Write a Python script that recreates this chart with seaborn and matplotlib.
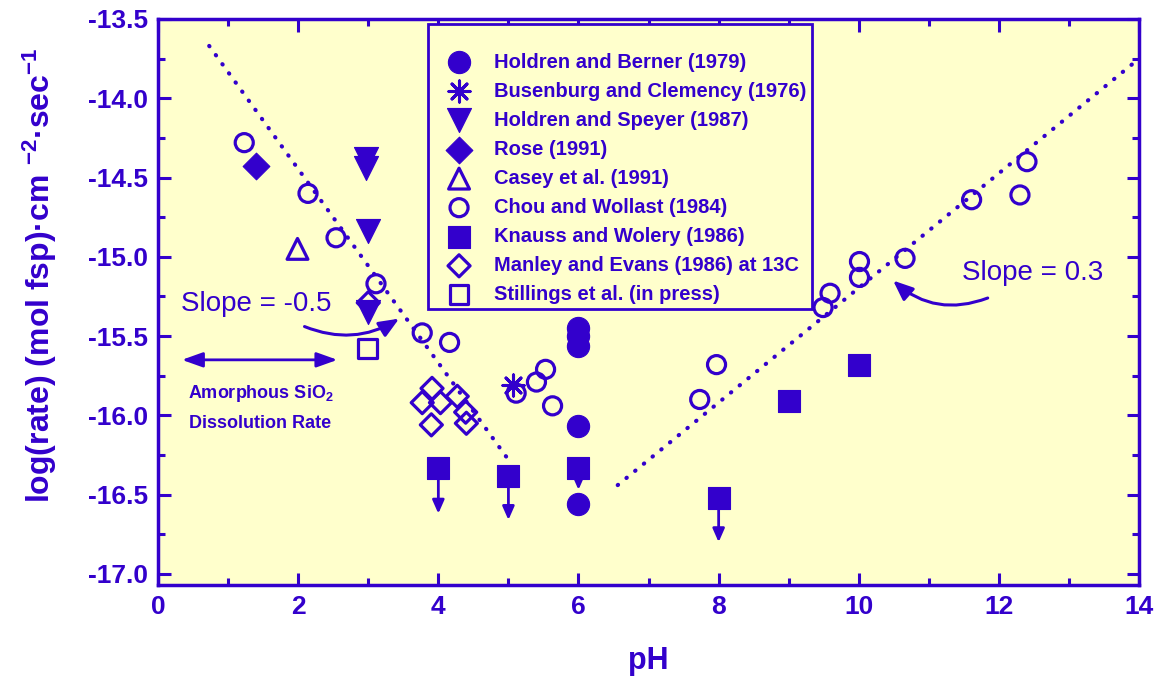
import numpy as np
import pandas as pd
import seaborn as sns
import matplotlib.pyplot as plt
from matplotlib.ticker import MultipleLocator, FormatStrFormatter

BLUE = "#3300cc"
PAPER = "#ffffcc"

# Holdren and Berner (1979)
hb_ph = [6.0, 6.0, 6.0, 6.0, 6.0]
hb_rate = [-15.45, -15.50, -15.56, -16.07, -16.56]
# Busenburg and Clemency (1976)
bc_ph = [5.06]
bc_rate = [-15.81]
# Holdren and Speyer (1987)
hs_ph = [2.97, 2.97, 2.99, 3.0]
hs_rate = [-14.38, -14.44, -14.84, -15.35]
# Rose (1991)
rose_ph = [1.40]
rose_rate = [-14.43]
# Casey et al. (1991)
casey_ph = [1.99]
casey_rate = [-14.95]
# Chou and Wollast (1984)
cw_ph = [1.23, 2.14, 2.54, 3.11, 3.77, 4.16, 5.11, 5.40, 5.53, 5.63,
         7.73, 7.97, 9.49, 9.59, 10.01, 10.01, 10.66, 11.61, 12.30, 12.40]
cw_rate = [-14.28, -14.60, -14.88, -15.17, -15.48, -15.54, -15.86, -15.79, -15.71, -15.94,
           -15.90, -15.68, -15.32, -15.23, -15.13, -15.03, -15.01, -14.64, -14.61, -14.40]
# Knauss and Wolery (1986)
kw_ph = [4.0, 5.0, 6.0, 8.0, 9.0, 10.0]
kw_rate = [-16.33, -16.38, -16.33, -16.52, -15.91, -15.68]
# Knauss and Wolery upper limits (arrow tips)
kw_limit_ph = [4.0, 5.0, 6.0, 8.0]
kw_limit_from = [-16.33, -16.38, -16.33, -16.52]
kw_limit_to = [-16.62, -16.66, -16.47, -16.80]
# Manley and Evans (1986) at 13C
me_ph = [3.0, 3.77, 3.90, 3.91, 4.03, 4.27, 4.39, 4.40]
me_rate = [-15.29, -15.92, -16.06, -15.83, -15.92, -15.88, -15.98, -16.05]
# Stillings et al. (in press)
st_ph = [2.99]
st_rate = [-15.58]

# dotted trend lines
acid_ph = [0.73, 5.0]
acid_rate = [-13.67, -16.28]
base_ph = [6.56, 14.0]
base_rate = [-16.44, -13.75]

sns.set_style("ticks")
plt.rcParams["font.family"] = ["Liberation Sans", "DejaVu Sans"]
plt.rcParams["mathtext.fontset"] = "custom"
plt.rcParams["mathtext.rm"] = "Liberation Sans:bold"
plt.rcParams["mathtext.it"] = "Liberation Sans:bold"
plt.rcParams["mathtext.bf"] = "Liberation Sans:bold"
plt.rcParams["mathtext.default"] = "rm"
plt.rcParams["axes.unicode_minus"] = False

fig = plt.figure(figsize=(11.76, 6.78), dpi=100)
fig.patch.set_facecolor("white")
ax = fig.add_axes([0.1344, 0.1372, 0.8342, 0.8348])
ax.set_facecolor(PAPER)

dots = (0, (0.1, 2.6))
sns.lineplot(x=acid_ph, y=acid_rate, ax=ax, color=BLUE, lw=3, linestyle=dots,
             dash_capstyle="round", zorder=2)
sns.lineplot(x=base_ph, y=base_rate, ax=ax, color=BLUE, lw=3, linestyle=dots,
             dash_capstyle="round", zorder=2)

# down arrows = upper limits
for xp, y0, y1 in zip(kw_limit_ph, kw_limit_from, kw_limit_to):
    ax.annotate("", xy=(xp, y1), xytext=(xp, y0), zorder=2,
                arrowprops=dict(arrowstyle="-|>,head_length=0.5,head_width=0.22",
                                color=BLUE, lw=2, mutation_scale=16,
                                shrinkA=0, shrinkB=0))

series = [
    (hb_ph, hb_rate, "o", 256, True, "Holdren and Berner (1979)"),
    (bc_ph, bc_rate, (8, 2, 0), 230, None, "Busenburg and Clemency (1976)"),
    (hs_ph, hs_rate, "v", 300, True, "Holdren and Speyer (1987)"),
    (rose_ph, rose_rate, "D", 185, True, "Rose (1991)"),
    (casey_ph, casey_rate, "^", 225, False, "Casey et al. (1991)"),
    (cw_ph, cw_rate, "o", 169, False, "Chou and Wollast (1984)"),
    (kw_ph, kw_rate, "s", 256, True, "Knauss and Wolery (1986)"),
    (me_ph, me_rate, "D", 126, False, "Manley and Evans (1986) at 13C"),
    (st_ph, st_rate, "s", 185, False, "Stillings et al. (in press)"),
]

for xs, ys, mk, size, filled, lab in series:
    if filled is None:
        sns.scatterplot(x=xs, y=ys, ax=ax, marker=mk, s=size, color=BLUE,
                        linewidth=2.2, label=lab, zorder=3)
    elif filled:
        sns.scatterplot(x=xs, y=ys, ax=ax, marker=mk, s=size, color=BLUE,
                        edgecolor=BLUE, linewidth=0.8, label=lab, zorder=3)
    else:
        sns.scatterplot(x=xs, y=ys, ax=ax, marker=mk, s=size, color=BLUE,
                        facecolor="none", edgecolor=BLUE, linewidth=2.3,
                        label=lab, zorder=3)

leg = ax.legend(loc="upper left", bbox_to_anchor=(0.275, 0.992), frameon=True,
                fancybox=False, framealpha=1, facecolor=PAPER, edgecolor=BLUE,
                prop={"weight": "bold", "size": 14.5}, labelcolor=BLUE,
                handlelength=2.6, handletextpad=0.45, labelspacing=0.5,
                borderpad=0.25, borderaxespad=0, scatterpoints=1,
                title=" ", title_fontsize=10)
leg.get_frame().set_linewidth(2)
leg.set_zorder(2.5)

# slope annotations
ax.text(0.33, -15.30, "Slope = -0.5", fontsize=20, color=BLUE, va="center", ha="left")
ax.annotate("", xy=(3.44, -15.39), xytext=(2.09, -15.44),
            arrowprops=dict(arrowstyle="-|>,head_length=0.6,head_width=0.25",
                            connectionstyle="arc3,rad=0.25", color=BLUE, lw=2.2,
                            mutation_scale=20, shrinkA=0, shrinkB=0))
ax.text(11.47, -15.10, "Slope = 0.3", fontsize=20, color=BLUE, va="center", ha="left")
ax.annotate("", xy=(10.49, -15.15), xytext=(11.84, -15.26),
            arrowprops=dict(arrowstyle="-|>,head_length=0.6,head_width=0.25",
                            connectionstyle="arc3,rad=-0.3", color=BLUE, lw=2.2,
                            mutation_scale=20, shrinkA=0, shrinkB=0))

# amorphous silica range
ax.annotate("", xy=(2.56, -15.65), xytext=(0.34, -15.65),
            arrowprops=dict(arrowstyle="<|-|>,head_length=0.7,head_width=0.25",
                            color=BLUE, lw=2, mutation_scale=18, shrinkA=0, shrinkB=0))
ax.text(1.46, -15.86, "Amorphous SiO$_2$", fontsize=13, fontweight="bold",
        color=BLUE, ha="center", va="center")
ax.text(1.46, -16.05, "Dissolution Rate", fontsize=13, fontweight="bold",
        color=BLUE, ha="center", va="center")

ax.set_xlim(0, 14)
ax.set_ylim(-17.07, -13.5)
ax.xaxis.set_major_locator(MultipleLocator(2))
ax.xaxis.set_minor_locator(MultipleLocator(1))
ax.yaxis.set_major_locator(MultipleLocator(0.5))
ax.yaxis.set_minor_locator(MultipleLocator(0.25))
ax.yaxis.set_major_formatter(FormatStrFormatter("%.1f"))

ax.tick_params(which="both", direction="in", top=True, right=True,
               color=BLUE, labelcolor=BLUE, width=2.2)
ax.tick_params(which="major", length=9, labelsize=19, pad=7)
ax.tick_params(which="minor", length=5)
for lbl in ax.get_xticklabels() + ax.get_yticklabels():
    lbl.set_fontweight("bold")
for sp in ax.spines.values():
    sp.set_color(BLUE)
    sp.set_linewidth(2.5)

ax.set_xlabel("pH", fontsize=22, fontweight="bold", color=BLUE, labelpad=20)
ax.set_ylabel("log(rate) (mol fsp)\u00b7cm $^{-2}$\u00b7sec$^{-1}$", fontsize=23,
              fontweight="bold", color=BLUE)
ax.yaxis.set_label_coords(-0.101, 0.548)

fig.savefig("out.png", dpi=100, facecolor="white")
